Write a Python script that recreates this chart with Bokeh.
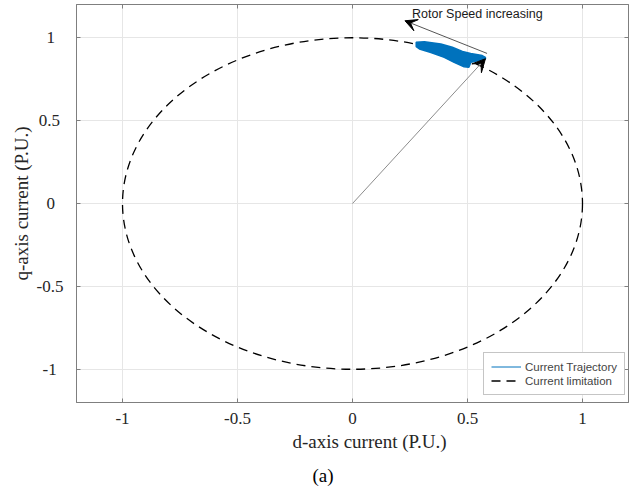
from bokeh.plotting import figure
from bokeh.models import (Range1d, Legend, LegendItem, Label, Arrow, VeeHead,
                          FixedTicker, Title, LinearAxis)
from bokeh.embed import file_html
from bokeh.resources import INLINE

# ---- data ----
ticks = [-1, -0.5, 0, 0.5, 1]
x_tick_labels = {-1: "-1", -0.5: "-0.5", 0: "0", 0.5: "0.5", 1: "1"}
y_tick_labels = {-1: "-1\u2009\u2009", -0.5: "-0.5", 0: "0\u2007", 0.5: "0.5\u2009", 1: "1\u2007"}
limit_radius = 1.0

# outline of the (oscillating) current trajectory band
traj_band_d = [0.277, 0.3125, 0.384, 0.434, 0.478, 0.514, 0.564, 0.578,
               0.578, 0.535, 0.514, 0.506, 0.485, 0.442, 0.399, 0.341, 0.291, 0.277]
traj_band_q = [0.972, 0.976, 0.962, 0.942, 0.917, 0.905, 0.892, 0.881,
               0.872, 0.857, 0.851, 0.821, 0.825, 0.851, 0.881, 0.911, 0.932, 0.946]

current_vec_end = (0.578, 0.873)
speed_arrow_start = (0.585, 0.905)
speed_arrow_end = (0.228, 1.102)

p = figure(width=629, height=495, output_backend="svg", toolbar_location=None,
           x_range=Range1d(-1.2, 1.2), y_range=Range1d(-1.2, 1.2),
           min_border_left=76, min_border_right=1, min_border_top=4,
           min_border_bottom=93)
p.background_fill_color = "white"
p.border_fill_color = "white"
p.outline_line_color = "#7f7f7f"
p.outline_line_width = 1

# box-style ticks on the top and right edges (labels not drawn)
p.add_layout(LinearAxis(), "above")
p.add_layout(LinearAxis(), "right")

for ax in p.xaxis + p.yaxis:
    ax.ticker = FixedTicker(ticks=ticks)
    ax.axis_line_color = "#7f7f7f"
    ax.major_tick_line_color = "#7f7f7f"
    ax.major_tick_in = 4
    ax.major_tick_out = 0
    ax.minor_tick_line_color = None
    ax.major_label_text_font = "Liberation Serif"
    ax.major_label_text_font_size = "17px"
    ax.major_label_text_color = "#262626"

for ax in (p.above[0], p.right[0]):
    ax.major_label_text_font_size = "0px"
    ax.major_label_text_color = None
    ax.major_label_standoff = 0

p.below[0].major_label_overrides = x_tick_labels
p.left[0].major_label_overrides = y_tick_labels
p.below[0].major_label_standoff = 10
p.left[0].major_label_standoff = 13

p.grid.ticker = FixedTicker(ticks=ticks)
p.grid.grid_line_color = "#e6e6e6"
p.grid.grid_line_width = 1

# current limitation circle
p.ellipse(x=0, y=0, width=2 * limit_radius, height=2 * limit_radius,
          fill_alpha=0, line_color="black", line_dash="9 6", line_width=1.3)
lim_leg = p.line([0], [limit_radius], line_color="black", line_width=1.3, line_dash="9 6")

# trajectory band
p.patch(traj_band_d, traj_band_q, fill_color="#0072BD", line_color="#0072BD", line_width=1.5)
traj_leg = p.line([traj_band_d[0]], [traj_band_q[0]], line_color="#0072BD", line_width=1)

# arrows
p.add_layout(Arrow(end=VeeHead(size=13, fill_color="black", line_color="black"),
                   x_start=0, y_start=0,
                   x_end=current_vec_end[0], y_end=current_vec_end[1],
                   line_color="#8c8c8c", line_width=1))
p.add_layout(Arrow(end=VeeHead(size=12, fill_color="black", line_color="black"),
                   x_start=speed_arrow_start[0], y_start=speed_arrow_start[1],
                   x_end=speed_arrow_end[0], y_end=speed_arrow_end[1],
                   line_color="#555555", line_width=1))

p.add_layout(Label(x=0.259, y=1.142, text="Rotor Speed increasing",
                   text_font="Liberation Sans", text_font_size="12.5px",
                   text_baseline="middle", text_color="#1a1a1a"))

# axis titles and caption as side-panel titles
def mk_title(text, align, offset, standoff, color="#262626"):
    return Title(text=text, align=align, offset=offset, standoff=standoff,
                 text_font="Liberation Serif", text_font_size="19px",
                 text_font_style="normal", text_color=color)

p.add_layout(mk_title("d-axis current (P.U.)", "left", 216, 5), "below")
p.add_layout(mk_title("(a)", "left", 236, 16, "black"), "below")
p.add_layout(mk_title("q-axis current (P.U.)", "center", 0, 4), "left")

legend = Legend(items=[LegendItem(label="Current Trajectory", renderers=[traj_leg]),
                       LegendItem(label="Current limitation", renderers=[lim_leg])],
                location=(407, 7))
legend.label_text_font = "Liberation Sans"
legend.label_text_font_size = "11.5px"
legend.label_height = 13
legend.glyph_height = 13
legend.glyph_width = 30
legend.label_standoff = 4
legend.padding = 7
legend.spacing = 1
legend.margin = 0
legend.border_line_color = "#8c8c8c"
legend.border_line_width = 1
legend.background_fill_alpha = 1
p.add_layout(legend)

open("out.html", "w").write(file_html(p, INLINE))
